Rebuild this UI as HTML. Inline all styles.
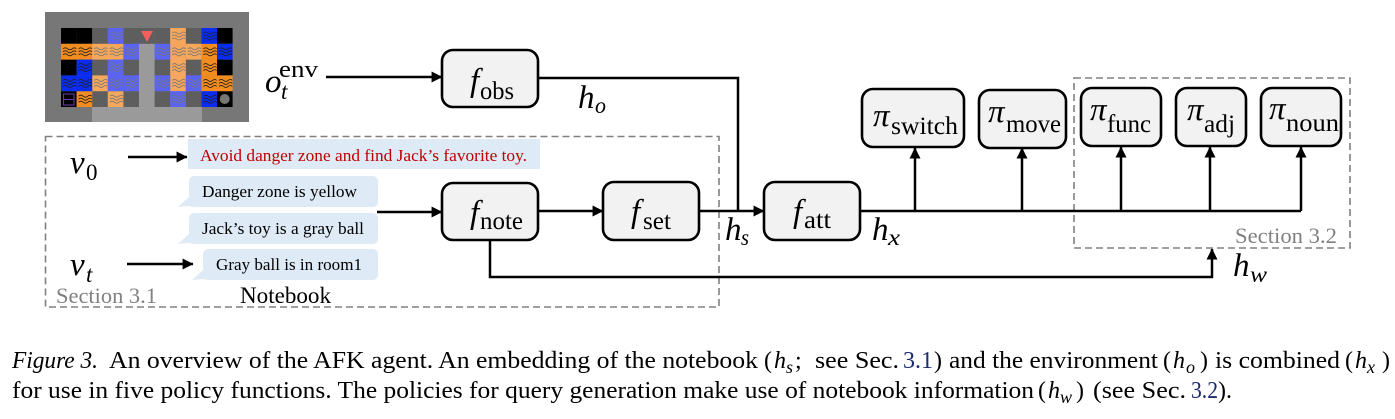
<!DOCTYPE html>
<html><head><meta charset="utf-8"><style>
html,body{margin:0;padding:0;background:#fff}
svg{display:block}
text{font-family:"Liberation Serif",serif;fill:#000}
.m{font-style:italic;font-size:33px}
.s{font-size:25px}
.ss{font-style:italic;font-size:23px}
.c{font-size:24px}
.cs{font-size:18px;font-style:italic}
.b{font-size:17px}
.g{fill:#808080;font-size:22px}
.box{fill:#f2f2f2;stroke:#000;stroke-width:2.6}
.l{fill:none;stroke:#000;stroke-width:2.5}
.d{fill:none;stroke:#808080;stroke-width:1.6;stroke-dasharray:7 4}
.bb{fill:#deeaf6}
</style></head><body>
<svg width="1395" height="419" viewBox="0 0 1395 419" xmlns="http://www.w3.org/2000/svg">
<defs>
<g id="w"><path d="M2 5q2.300-2 4.600 0t4.600 0 4 0M2 8q2.300-2 4.600 0t4.600 0 4 0M2 11q2.300-2 4.600 0t4.600 0 4 0" fill="none" stroke-width=".8"/></g>
<marker id="a" viewBox="0 0 10 10" refX="9.5" refY="5" markerWidth="11" markerHeight="11" markerUnits="userSpaceOnUse" orient="auto"><path d="M0 0L10 5L0 10z" fill="#000"/></marker>
</defs>

<!-- environment grid -->
<rect x="45" y="12" width="204" height="110" fill="#777"/>
<rect x="92" y="107" width="110" height="15" fill="#9a9a9a"/>
<rect x="139" y="28" width="16" height="80" fill="#9a9a9a"/>
<g fill="#000">
<rect x="61" y="28" width="15.6" height="15.8"/><rect x="76.6" y="28" width="15.6" height="15.8"/><rect x="217" y="28" width="15.6" height="15.8"/>
<rect x="61" y="59.6" width="15.6" height="15.8"/><rect x="217" y="59.6" width="15.6" height="15.8"/>
<rect x="61" y="91.2" width="15.6" height="15.8"/><rect x="217" y="91.2" width="15.6" height="15.8"/>
</g>
<g fill="#5e5e5e">
<rect x="92.2" y="28" width="15.6" height="15.8"/><rect x="123.4" y="28" width="15.6" height="15.8"/><rect x="139" y="28" width="15.6" height="15.8"/><rect x="154.6" y="28" width="15.6" height="15.8"/><rect x="185.8" y="28" width="15.6" height="15.8"/>
<rect x="92.2" y="59.6" width="15.6" height="15.8"/><rect x="123.4" y="59.6" width="15.6" height="15.8"/><rect x="154.6" y="59.6" width="15.6" height="15.8"/><rect x="185.8" y="59.6" width="15.6" height="15.8"/>
<rect x="92.2" y="91.2" width="15.6" height="15.8"/><rect x="123.4" y="91.2" width="15.6" height="15.8"/><rect x="154.6" y="91.2" width="15.6" height="15.8"/><rect x="185.8" y="91.2" width="15.6" height="15.8"/>
</g>
<g fill="#f28c1e">
<rect x="61" y="43.8" width="31.2" height="15.8"/><rect x="201.4" y="43.8" width="15.6" height="15.8"/>
<rect x="201.4" y="59.6" width="15.6" height="15.8"/><rect x="201.4" y="75.4" width="31.2" height="15.8"/>
<rect x="76.6" y="91.2" width="15.6" height="15.8"/>
</g>
<g fill="#f5a85c">
<rect x="92.2" y="43.8" width="31.2" height="15.8"/><rect x="170.2" y="28" width="15.6" height="63.2"/><rect x="185.8" y="43.8" width="15.6" height="15.8"/>
<rect x="92.2" y="75.4" width="15.6" height="15.8"/><rect x="107.8" y="91.2" width="15.6" height="15.8"/>
</g>
<g fill="#0a2cf0">
<rect x="201.4" y="28" width="15.6" height="15.8"/><rect x="217" y="43.8" width="15.6" height="15.8"/><rect x="76.6" y="59.6" width="15.6" height="15.8"/>
<rect x="61" y="75.4" width="31.2" height="15.8"/><rect x="201.4" y="91.2" width="15.6" height="15.8"/>
</g>
<g fill="#5b64f0">
<rect x="107.8" y="28" width="15.6" height="15.8"/><rect x="123.4" y="43.8" width="15.6" height="15.8"/><rect x="154.6" y="43.8" width="15.6" height="15.8"/>
<rect x="107.8" y="59.6" width="15.6" height="15.8"/><rect x="107.8" y="75.4" width="31.2" height="15.8"/>
<rect x="154.6" y="75.4" width="15.6" height="15.8"/><rect x="185.8" y="75.4" width="15.6" height="15.8"/><rect x="170.2" y="91.2" width="15.6" height="15.8"/>
</g>
<g stroke="#222">
<use href="#w" x="61" y="43.8"/><use href="#w" x="76.6" y="43.8"/><use href="#w" x="201.4" y="43.8"/><use href="#w" x="217" y="43.8"/>
<use href="#w" x="201.4" y="28"/><use href="#w" x="76.6" y="59.6"/><use href="#w" x="201.4" y="59.6"/>
<use href="#w" x="61" y="75.4"/><use href="#w" x="76.6" y="75.4"/><use href="#w" x="201.4" y="75.4"/><use href="#w" x="217" y="75.4"/>
<use href="#w" x="76.6" y="91.2"/><use href="#w" x="201.4" y="91.2"/>
</g>
<g stroke="#777">
<use href="#w" x="107.8" y="28"/><use href="#w" x="170.2" y="28"/>
<use href="#w" x="92.2" y="43.8"/><use href="#w" x="107.8" y="43.8"/><use href="#w" x="123.4" y="43.8"/><use href="#w" x="154.6" y="43.8"/><use href="#w" x="170.2" y="43.8"/><use href="#w" x="185.8" y="43.8"/>
<use href="#w" x="107.8" y="59.6"/><use href="#w" x="170.2" y="59.6"/>
<use href="#w" x="92.2" y="75.4"/><use href="#w" x="107.8" y="75.4"/><use href="#w" x="123.4" y="75.4"/><use href="#w" x="154.6" y="75.4"/><use href="#w" x="170.2" y="75.4"/><use href="#w" x="185.8" y="75.4"/>
<use href="#w" x="107.8" y="91.2"/><use href="#w" x="170.2" y="91.2"/>
</g>
<path d="M141 31H153L147 42z" fill="#f55f5f"/>
<rect x="63.500" y="94" width="10.500" height="11" fill="none" stroke="#6a35a8" stroke-width="1.100"/><path d="M63.500 99.500H74" stroke="#6a35a8" stroke-width="1.100"/>
<circle cx="224.700" cy="99" r="5" fill="#777"/>

<!-- dashed sections -->
<rect class="d" x="45.500" y="136.500" width="673.500" height="170.500"/>
<rect class="d" x="1074" y="78" width="276" height="170"/>

<!-- notebook bubbles -->
<rect class="bb" x="188" y="139" width="352" height="30"/>
<path class="bb" d="M194 176H373a5 5 0 0 1 5 5V202a5 5 0 0 1-5 5H194l-5-1-11 1 11-10V181a5 5 0 0 1 5-5z"/>
<path class="bb" d="M194 213H373a5 5 0 0 1 5 5V239a5 5 0 0 1-5 5H194l-5-1-11 1 11-10V218a5 5 0 0 1 5-5z"/>
<path class="bb" d="M208 249H373a5 5 0 0 1 5 5V275a5 5 0 0 1-5 5H208l-5-1-11 1 11-10V254a5 5 0 0 1 5-5z"/>
<text class="b" x="200" y="161" textLength="327" lengthAdjust="spacingAndGlyphs" style="fill:#c00000">Avoid danger zone and find Jack’s favorite toy.</text>
<text class="b" x="202" y="197" textLength="155" lengthAdjust="spacingAndGlyphs">Danger zone is yellow</text>
<text class="b" x="202" y="234" textLength="162" lengthAdjust="spacingAndGlyphs">Jack’s toy is a gray ball</text>
<text class="b" x="216" y="270" textLength="146" lengthAdjust="spacingAndGlyphs">Gray ball is in room1</text>
<text class="g" x="56" y="303" textLength="101" lengthAdjust="spacingAndGlyphs">Section 3.1</text>
<text x="240" y="303" font-size="23" textLength="91" lengthAdjust="spacingAndGlyphs">Notebook</text>
<text class="g" x="1235" y="243" textLength="102" lengthAdjust="spacingAndGlyphs">Section 3.2</text>

<!-- connectors -->
<path class="l" d="M128 157H187" marker-end="url(#a)"/>
<path class="l" d="M127 264H193" marker-end="url(#a)"/>
<path class="l" d="M326 77H442" marker-end="url(#a)"/>
<path class="l" d="M377 212H442" marker-end="url(#a)"/>
<path class="l" d="M538 211H603" marker-end="url(#a)"/>
<path class="l" d="M699 211H764" marker-end="url(#a)"/>
<path class="l" d="M538 78H738V211"/>
<path class="l" d="M860 211H1301"/>
<path class="l" d="M915 211V148" marker-end="url(#a)"/>
<path class="l" d="M1022 211V148" marker-end="url(#a)"/>
<path class="l" d="M1121 211V147" marker-end="url(#a)"/>
<path class="l" d="M1210 211V147" marker-end="url(#a)"/>
<path class="l" d="M1301 211V147" marker-end="url(#a)"/>
<path class="l" d="M490 241V277H1212V249" marker-end="url(#a)"/>

<!-- boxes -->
<rect class="box" x="442" y="50" width="96" height="57" rx="11"/>
<rect class="box" x="442" y="183" width="96" height="57" rx="11"/>
<rect class="box" x="603" y="182" width="96" height="58" rx="11"/>
<rect class="box" x="764" y="182" width="96" height="58" rx="11"/>
<rect class="box" x="862" y="89" width="102" height="58" rx="11"/>
<rect class="box" x="979" y="90" width="87" height="58" rx="11"/>
<rect class="box" x="1081" y="88" width="80" height="58" rx="11"/>
<rect class="box" x="1176" y="88" width="70" height="58" rx="11"/>
<rect class="box" x="1261" y="88" width="80" height="58" rx="11"/>

<!-- box labels -->
<text class="m" x="470" y="91">f</text><text class="s" x="480" y="99" textLength="34" lengthAdjust="spacingAndGlyphs">obs</text>
<text class="m" x="470" y="223">f</text><text class="s" x="480" y="229" textLength="43" lengthAdjust="spacingAndGlyphs">note</text>
<text class="m" x="631" y="222">f</text><text class="s" x="643" y="229" textLength="28" lengthAdjust="spacingAndGlyphs">set</text>
<text class="m" x="793" y="222">f</text><text class="s" x="804" y="228" textLength="27" lengthAdjust="spacingAndGlyphs">att</text>
<text class="m" x="873" y="126">π</text><text class="s" x="891" y="134" textLength="67" lengthAdjust="spacingAndGlyphs">switch</text>
<text class="m" x="988" y="122">π</text><text class="s" x="1006" y="132" textLength="55" lengthAdjust="spacingAndGlyphs">move</text>
<text class="m" x="1090" y="120">π</text><text class="s" x="1107" y="132" textLength="44" lengthAdjust="spacingAndGlyphs">func</text>
<text class="m" x="1187" y="120">π</text><text class="s" x="1204" y="132" textLength="31" lengthAdjust="spacingAndGlyphs">adj</text>
<text class="m" x="1269" y="119">π</text><text class="s" x="1286" y="131" textLength="53" lengthAdjust="spacingAndGlyphs">noun</text>

<!-- signal labels -->
<text class="m" x="265" y="92">o</text><text class="ss" x="281" y="99">t</text><text x="279" y="77" font-size="24" textLength="39" lengthAdjust="spacingAndGlyphs">env</text>
<text class="m" x="70" y="173">v</text><text x="86" y="180" font-size="23">0</text>
<text class="m" x="70" y="275">v</text><text class="ss" x="86" y="282">t</text>
<text class="m" x="578" y="108">h</text><text class="ss" x="595" y="113" textLength="11" lengthAdjust="spacingAndGlyphs">o</text>
<text class="m" x="725" y="240">h</text><text class="ss" x="741" y="245" textLength="8" lengthAdjust="spacingAndGlyphs">s</text>
<text class="m" x="872" y="240">h</text><text class="ss" x="888" y="245" textLength="12" lengthAdjust="spacingAndGlyphs">x</text>
<text class="m" x="1233" y="276">h</text><text class="ss" x="1250" y="282" textLength="17" lengthAdjust="spacingAndGlyphs">w</text>

<!-- caption -->
<text class="c" x="12" y="368" font-style="italic" textLength="86" lengthAdjust="spacingAndGlyphs">Figure 3.</text>
<text class="c" x="109" y="368" textLength="649" lengthAdjust="spacingAndGlyphs">An overview of the AFK agent. An embedding of the notebook</text>
<text class="c" x="764" y="368">(<tspan font-style="italic" dx="2">h</tspan></text>
<text class="cs" x="786" y="373">s</text>
<text class="c" x="795" y="368">;</text>
<text class="c" x="815" y="368" textLength="84" lengthAdjust="spacingAndGlyphs">see Sec.</text>
<text class="c" x="903" y="368" style="fill:#1a2a6c" textLength="30" lengthAdjust="spacingAndGlyphs">3.1</text>
<text class="c" x="934" y="368">)</text>
<text class="c" x="949" y="368" textLength="209" lengthAdjust="spacingAndGlyphs">and the environment</text>
<text class="c" x="1163" y="368">(<tspan font-style="italic" dx="2">h</tspan></text>
<text class="cs" x="1186" y="373">o</text>
<text class="c" x="1200" y="368">)</text>
<text class="c" x="1215" y="368" textLength="125" lengthAdjust="spacingAndGlyphs">is combined</text>
<text class="c" x="1345" y="368">(<tspan font-style="italic" dx="2">h</tspan></text>
<text class="cs" x="1367" y="373">x</text>
<text class="c" x="1382" y="368">)</text>

<text class="c" x="12" y="398" textLength="1022" lengthAdjust="spacingAndGlyphs">for use in five policy functions. The policies for query generation make use of notebook information</text>
<text class="c" x="1038" y="398">(<tspan font-style="italic" dx="2">h</tspan></text>
<text class="cs" x="1060" y="403">w</text>
<text class="c" x="1076" y="398">)</text>
<text class="c" x="1093" y="398" textLength="93" lengthAdjust="spacingAndGlyphs">(see Sec.</text>
<text class="c" x="1191" y="398" style="fill:#1a2a6c" textLength="27" lengthAdjust="spacingAndGlyphs">3.2</text>
<text class="c" x="1218" y="398">).</text>
</svg>
</body></html>
